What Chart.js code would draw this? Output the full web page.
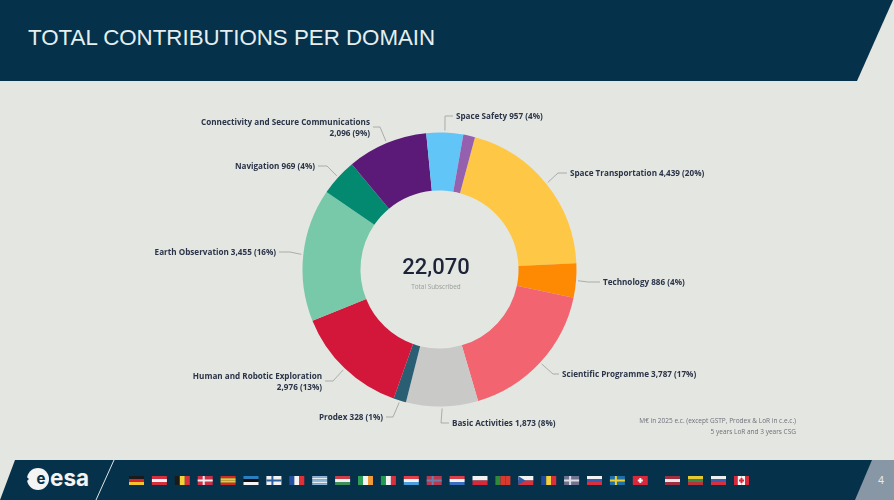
<!DOCTYPE html>
<html>
<head>
<meta charset="utf-8">
<title>Total contributions per domain</title>
<script src="https://cdn.jsdelivr.net/npm/chart.js@4"></script>
<style>
html, body { margin: 0; padding: 0; background: #e4e6e1; overflow: hidden; }
#stage { position: relative; width: 894px; height: 500px; }
#top { position: absolute; left: 0; top: 0; width: 894px; height: 82px; background: #05324a;
       clip-path: polygon(0 0, 893px 0, 857px 81px, 0 81px); }
#title { position: absolute; left: 28px; top: 25px; color: #e6eef0; font: 22.3px "Liberation Sans", Arial, sans-serif; white-space: nowrap; }
#foot { position: absolute; left: 0; top: 0; }
#page { position: absolute; left: 878px; top: 474px; color: #e6eaee; font: 11px "Liberation Sans", Arial, sans-serif; }
#chart { position: absolute; left: 0; top: 0; }
</style>
</head>
<body>
<div id="stage">
  <div id="top"></div>
  <div id="title">TOTAL CONTRIBUTIONS PER DOMAIN</div>
  <svg id="foot" width="894" height="500" xmlns="http://www.w3.org/2000/svg"></svg>
  <div id="page">4</div>
  <canvas id="chart" width="894" height="500"></canvas>
</div>
<script>
const domains = ['Space Transportation', 'Technology', 'Scientific Programme', 'Basic Activities', 'Prodex',
    'Human and Robotic Exploration', 'Earth Observation', 'Navigation', 'Connectivity and Secure Communications',
    'Space Safety', 'Other'];
const contributions = [4439, 886, 3787, 1873, 328, 2976, 3455, 969, 2096, 957, 304];
const shares = [20, 4, 17, 8, 1, 13, 16, 4, 9, 4, null];
const sliceColors = ['#fec745', '#fd8a02', '#f2646f', '#c9c9c7', '#2a5f73', '#d2173a', '#78c8aa', '#03896f',
    '#5b1a78', '#62c5f8', '#9560ae'];
const totalLabel = '22,070';
const totalCaption = 'Total Subscribed';
const footnotes = ['M€ in 2025 e.c. (except GSTP, Prodex & LoR in c.e.c.)', '5 years LoR and 3 years CSG'];

// where each label text sits, and where its leader line bends
const labelSpots = [
    { x: 570, y: 173, bendX: 558, side: 'left' },
    { x: 603, y: 282, bendX: 588, side: 'left' },
    { x: 562, y: 374, bendX: 553, side: 'left' },
    { x: 452, y: 423, bendX: 441, side: 'left' },
    { x: 383, y: 417, bendX: 393, side: 'right' },
    { x: 322, y: 381, bendX: 333, side: 'right', wrap: true },
    { x: 276, y: 252, bendX: 290, side: 'right' },
    { x: 315, y: 166, bendX: 327, side: 'right' },
    { x: 370, y: 127, bendX: 380, side: 'right', wrap: true },
    { x: 456, y: 116, bendX: 445, side: 'left' },
    null
];

const labelPlugin = {
    id: 'labelPlugin',
    afterDatasetsDraw(chart) {
        const c = chart.ctx;
        const arcs = chart.getDatasetMeta(0).data;
        c.save();
        arcs.forEach((arc, i) => {
            const spot = labelSpots[i];
            if (!spot) return;
            const mid = (arc.startAngle + arc.endAngle) / 2;
            const r = arc.outerRadius + 2;
            const dir = spot.side === 'left' ? -1 : 1;
            c.strokeStyle = '#a9aca8';
            c.lineWidth = 1;
            c.beginPath();
            c.moveTo(arc.x + Math.cos(mid) * r, arc.y + Math.sin(mid) * r);
            c.lineTo(spot.bendX, spot.y);
            c.lineTo(spot.x + dir * 3, spot.y);
            c.stroke();

            const value = contributions[i].toLocaleString('en-US') + ' (' + shares[i] + '%)';
            c.fillStyle = '#2b3448';
            c.font = 'bold 8.15px "Open Sans", sans-serif';
            c.textAlign = spot.side;
            c.textBaseline = 'middle';
            if (spot.wrap) {
                c.fillText(domains[i], spot.x, spot.y - 4.5);
                c.fillText(value, spot.x, spot.y + 6.5);
            } else {
                c.fillText(domains[i] + ' ' + value, spot.x, spot.y + 1);
            }
        });

        c.textAlign = 'center';
        c.textBaseline = 'middle';
        c.fillStyle = '#1d2439';
        c.font = '500 22px Roboto, sans-serif';
        c.fillText(totalLabel, 436, 268);
        c.fillStyle = '#9a9c9c';
        c.font = '6.4px "Open Sans", sans-serif';
        c.fillText(totalCaption, 436, 287);

        c.textAlign = 'right';
        c.fillStyle = '#6d7078';
        c.font = '6.5px "Open Sans", sans-serif';
        c.fillText(footnotes[0], 796, 421);
        c.fillText(footnotes[1], 796, 432);
        c.restore();
    }
};

new Chart(document.getElementById('chart'), {
    type: 'doughnut',
    data: {
        labels: domains,
        datasets: [{
            data: contributions,
            backgroundColor: sliceColors,
            borderWidth: 0,
            hoverOffset: 0
        }]
    },
    options: {
        responsive: false,
        animation: false,
        rotation: 15,
        cutout: '57.7%',
        layout: { padding: { left: 302.5, right: 317.5, top: 132.5, bottom: 93.5 } },
        plugins: { legend: { display: false }, tooltip: { enabled: false } }
    },
    plugins: [labelPlugin]
});

// footer band, logo and member state flags
const h = (colors) => ({ dir: 'h', colors });
const v = (colors) => ({ dir: 'v', colors });
const cross = (bg, fg) => ({ dir: 'h', colors: [bg], cross: fg });
const flagsMain = [
    h(['#1a1a1a', '#d8222a', '#f4c430']), h(['#d23040', '#f2f2f2', '#d23040']), v(['#1a1a1a', '#f4d03a', '#d8323c']),
    cross('#c9304a', '#eeeeee'), h(['#cf2b2b', '#f4c430', '#f4c430', '#cf2b2b']), h(['#2a7fc0', '#111111', '#f4f4f4']),
    cross('#f2f2f2', '#2a5f9c'), v(['#2451a4', '#f4f4f4', '#e0303a']), h(['#8fb4d6', '#e6eef4', '#8fb4d6', '#e6eef4', '#8fb4d6']),
    h(['#c9404a', '#f2f2f2', '#3f8f5a']), v(['#2f9e5a', '#f4f4f4', '#f09a3a']), v(['#1f9a50', '#f4f4f4', '#d8303c']),
    h(['#e0404a', '#f4f4f4', '#4a9fe0']), cross('#b53a52', '#6f7fa8'), h(['#d8404a', '#f4f4f4', '#3a6fc0']),
    h(['#f2f2f2', '#d8283c']), v(['#2e8a3a', '#d83a30', '#d83a30']), { dir: 'h', colors: ['#f2f2f2', '#d8303c'], wedge: '#2a5fa8' },
    v(['#204a9c', '#f4d03a', '#d8303c']), cross('#6f7390', '#dcdce4'), h(['#f2f2f2', '#3560b0', '#d8303c']),
    cross('#1f6fa8', '#f0d030'), { dir: 'h', colors: ['#d8283c'], mark: '#f4f4f4' }
];
const flagsSide = [
    h(['#9e3040', '#e8e8e8', '#9e3040']), h(['#e8c830', '#3a8a50', '#b8343c']), h(['#eeeeee', '#3a5fb0', '#d8303c']),
    { dir: 'v', colors: ['#d8283c', '#f4f4f4', '#f4f4f4', '#d8283c'], mark: '#d8283c' }
];
const svgNs = 'http://www.w3.org/2000/svg';
const foot = document.getElementById('foot');

function addShape(tag, attrs, text) {
    const el = document.createElementNS(svgNs, tag);
    Object.keys(attrs).forEach(k => el.setAttribute(k, attrs[k]));
    if (text) el.textContent = text;
    foot.appendChild(el);
    return el;
}

function drawFlag(flag, x, y) {
    const w = 15, ht = 9;
    flag.colors.forEach((col, i) => {
        const n = flag.colors.length;
        if (flag.dir === 'h') addShape('rect', { x: x, y: y + i * ht / n, width: w, height: ht / n, fill: col });
        else addShape('rect', { x: x + i * w / n, y: y, width: w / n, height: ht, fill: col });
    });
    if (flag.cross) {
        addShape('rect', { x: x + 5, y: y, width: 2, height: ht, fill: flag.cross });
        addShape('rect', { x: x, y: y + 3.5, width: w, height: 2, fill: flag.cross });
    }
    if (flag.mark) {
        addShape('rect', { x: x + 6.5, y: y + 2, width: 2, height: 5, fill: flag.mark });
        addShape('rect', { x: x + 5, y: y + 3.5, width: 5, height: 2, fill: flag.mark });
    }
    if (flag.wedge) addShape('polygon', { points: `${x},${y} ${x + 7},${y + ht / 2} ${x},${y + ht}`, fill: flag.wedge });
}

addShape('polygon', { points: '15,460 894,460 894,500 0,500', fill: '#05324a' });
addShape('polygon', { points: '872,460 894,460 894,500 855,500', fill: '#8797a6' });
addShape('line', { x1: 114, y1: 460, x2: 96, y2: 500, stroke: '#dfe5e8', 'stroke-width': 1 });
addShape('circle', { cx: 38, cy: 479, r: 11, fill: '#f4f4f4' });
addShape('circle', { cx: 27, cy: 479, r: 1.6, fill: '#05324a' });
addShape('text', { x: 41, y: 484, fill: '#05324a', 'font-family': 'Inter, sans-serif', 'font-size': 15, 'font-weight': 700, 'text-anchor': 'middle' }, 'e');
addShape('text', { x: 50, y: 486, fill: '#f4f4f4', 'font-family': 'Inter, sans-serif', 'font-size': 23, 'font-weight': 700, textLength: 39, lengthAdjust: 'spacingAndGlyphs' }, 'esa');
flagsMain.forEach((f, i) => drawFlag(f, 129 + i * 22.9, 476));
flagsSide.forEach((f, i) => drawFlag(f, 665 + i * 23, 476));
</script>
</body>
</html>
